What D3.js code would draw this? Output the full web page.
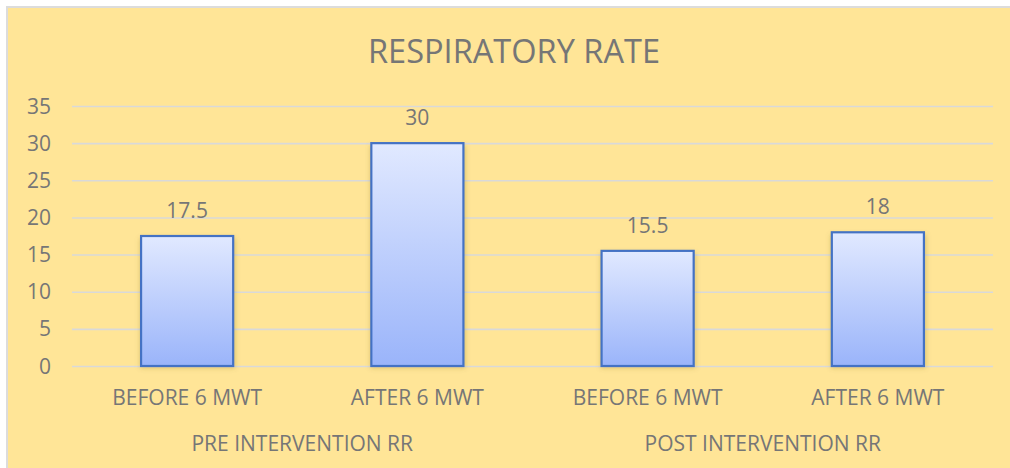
<!DOCTYPE html>
<html><head><meta charset="utf-8">
<script src="https://cdn.jsdelivr.net/npm/d3@7"></script>
<style>html,body{margin:0;padding:0;background:#fff;}svg{display:block;}</style>
</head><body>
<script>
const title = "RESPIRATORY RATE";
const categories = ["BEFORE 6 MWT", "AFTER 6 MWT", "BEFORE 6 MWT", "AFTER 6 MWT"];
const groups = ["PRE INTERVENTION RR", "POST INTERVENTION RR"];
const groupIndex = [0, 0, 1, 1];
const values = [17.5, 30, 15.5, 18];
const valueLabels = ["17.5", "30", "15.5", "18"];
const yTicks = [0, 5, 10, 15, 20, 25, 30, 35];

(function () {
const W = 1010, H = 468;
const svg = d3.select("body").append("svg").attr("width", W).attr("height", H);
const defs = svg.append("defs");
const grad = defs.append("linearGradient").attr("id", "barGrad").attr("x1", 0).attr("y1", 0).attr("x2", 0).attr("y2", 1);
grad.append("stop").attr("offset", "0%").attr("stop-color", "#E1E9FF");
grad.append("stop").attr("offset", "100%").attr("stop-color", "#9AB4FA");
const f = defs.append("filter").attr("id", "shadow").attr("x", "-20%").attr("y", "-20%").attr("width", "140%").attr("height", "140%");
f.append("feGaussianBlur").attr("stdDeviation", 2.5);

// frame
svg.append("rect").attr("x", 6).attr("y", 6).attr("width", W - 6).attr("height", H - 6).attr("fill", "#DCDCDC");
svg.append("rect").attr("x", 8).attr("y", 8).attr("width", W - 8).attr("height", H - 8).attr("fill", "#FFE597");

const textColor = "#767676";
const font = "'Open Sans', sans-serif";
const fs = 21;

svg.append("text").attr("x", 514).attr("y", 63).attr("text-anchor", "middle")
  .attr("font-family", font).attr("font-size", 32).attr("fill", textColor)
  .attr("textLength", 292).attr("lengthAdjust", "spacingAndGlyphs").text(title);

const pl = 72, pr = 993, pt = 106, pb = 366;
const x = d3.scaleBand().domain(d3.range(categories.length)).range([pl, pr]).padding(0);
const y = d3.scaleLinear().domain([0, 35]).range([pb, pt]);

// gridlines
const yAxis = d3.axisLeft(y).tickValues(yTicks).tickSize(-(pr - pl)).tickPadding(21);
const gy = svg.append("g").attr("transform", `translate(${pl},0)`).call(yAxis);
gy.select(".domain").remove();
gy.selectAll(".tick line").attr("stroke", "#D9D9D9").attr("stroke-width", 1.6);
gy.selectAll(".tick text").attr("font-family", font).attr("font-size", fs).attr("fill", textColor).attr("dy", "0.34em");

const bw = x.bandwidth() * 0.4;
const bars = svg.append("g");
bars.selectAll("rect.sh").data(values).join("rect").attr("class", "sh")
  .attr("x", (d, i) => x(i) + (x.bandwidth() - bw) / 2 - 1)
  .attr("y", d => y(d) + 2)
  .attr("width", bw + 3).attr("height", d => y(0) - y(d))
  .attr("fill", "rgba(120,100,40,0.28)").attr("filter", "url(#shadow)");
bars.selectAll("rect.bar").data(values).join("rect").attr("class", "bar")
  .attr("x", (d, i) => x(i) + (x.bandwidth() - bw) / 2)
  .attr("y", d => y(d))
  .attr("width", bw).attr("height", d => y(0) - y(d))
  .attr("fill", "url(#barGrad)").attr("stroke", "#4472C4").attr("stroke-width", 2.2);

svg.append("g").selectAll("text").data(values).join("text")
  .attr("x", (d, i) => x(i) + x.bandwidth() / 2)
  .attr("y", d => y(d) - 18)
  .attr("text-anchor", "middle").attr("font-family", font).attr("font-size", fs).attr("fill", textColor)
  .text((d, i) => valueLabels[i]);

// category labels
svg.append("g").selectAll("text").data(categories).join("text")
  .attr("x", (d, i) => x(i) + x.bandwidth() / 2)
  .attr("y", 405)
  .attr("text-anchor", "middle").attr("font-family", font).attr("font-size", fs).attr("fill", textColor)
  .text(d => d);

// group labels
svg.append("g").selectAll("text").data(groups).join("text")
  .attr("x", (d, gi) => {
    const idx = d3.range(categories.length).filter(i => groupIndex[i] === gi);
    return d3.mean(idx, i => x(i) + x.bandwidth() / 2);
  })
  .attr("y", 451)
  .attr("text-anchor", "middle").attr("font-family", font).attr("font-size", fs).attr("fill", textColor)
  .text(d => d);
})();
</script>
</body></html>
